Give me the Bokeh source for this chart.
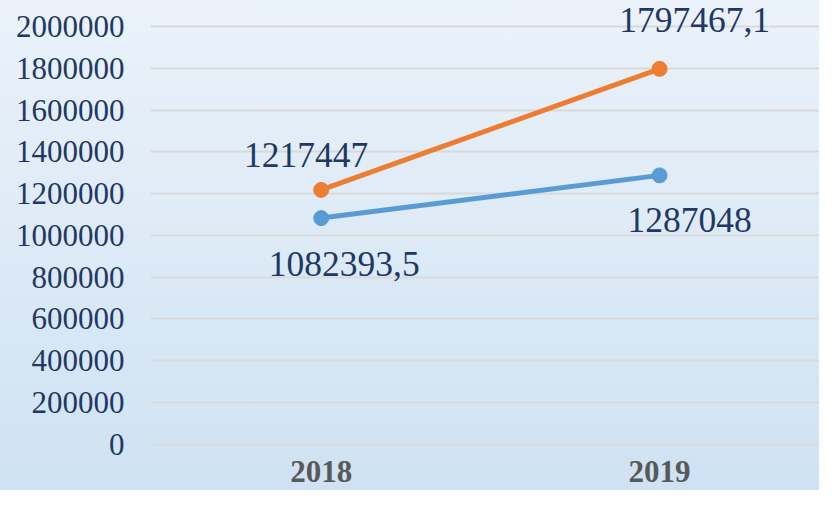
from bokeh.plotting import figure
from bokeh.models import Range1d, FixedTicker, ColumnDataSource, NumeralTickFormatter
from bokeh.core.properties import value
from bokeh.embed import file_html
from bokeh.resources import INLINE

# ---- data ----
years = [2018, 2019]
year_labels = ["2018", "2019"]
series_orange = [1217447.0, 1797467.1]
series_blue = [1082393.5, 1287048.0]
y_ticks = [0, 200000, 400000, 600000, 800000, 1000000, 1200000, 1400000,
           1600000, 1800000, 2000000]

# ---- styles / label placement (screen px) ----
orange_dx = [-15, 35]
orange_dy = [-35, -49]
blue_dx = [23, 30]
blue_dy = [46, 45]

NAVY = "#1F3864"
FONT = "Liberation Serif"


def fmt(v):
    if float(v).is_integer():
        return str(int(v))
    return f"{v:.1f}".replace(".", ",")


W, H = 819, 490
frame_left = 150
px_per_unit = 417.4 / 2000000
zero_px = 443.5
top_px = 26.1
y_start = -(H - zero_px) / px_per_unit
y_end = 2000000 + top_px / px_per_unit

px_per_year = 338.4
x_start = years[0] - (320.7 - frame_left) / px_per_year
x_end = years[1] + (W - 659.1) / px_per_year

p = figure(width=W, height=H, output_backend="svg", toolbar_location=None,
           x_range=Range1d(x_start, x_end), y_range=Range1d(y_start, y_end),
           min_border_left=frame_left, min_border_right=0,
           min_border_top=0, min_border_bottom=0)

p.styles = {"background": "linear-gradient(to bottom, #EBF2FA 0%, #CFE2F3 100%)"}
p.background_fill_color = None
p.border_fill_color = None
p.outline_line_color = None

p.xaxis.visible = False
p.xgrid.visible = False

yax = p.yaxis[0]
yax.ticker = FixedTicker(ticks=y_ticks)
yax.formatter = NumeralTickFormatter(format="0")
yax.axis_line_color = None
yax.major_tick_line_color = None
yax.minor_tick_line_color = None
yax.major_tick_out = 0
yax.major_tick_in = 0
yax.major_label_standoff = 26
yax.major_label_text_font = FONT
yax.major_label_text_font_size = "31px"
yax.major_label_text_color = NAVY

p.ygrid.ticker = FixedTicker(ticks=y_ticks)
p.ygrid.grid_line_color = "#D9D9D9"
p.ygrid.grid_line_width = 2

# lines
p.line(years, series_orange, line_color="#ED7D31", line_width=5)
p.scatter(years, series_orange, size=15, fill_color="#ED7D31", line_color="#ED7D31")
p.line(years, series_blue, line_color="#5B9BD5", line_width=5)
p.scatter(years, series_blue, size=15, fill_color="#5B9BD5", line_color="#5B9BD5")

# data labels
src_o = ColumnDataSource(dict(x=years, y=series_orange,
                              t=[fmt(v) for v in series_orange],
                              dx=orange_dx, dy=orange_dy))
src_b = ColumnDataSource(dict(x=years, y=series_blue,
                              t=[fmt(v) for v in series_blue],
                              dx=blue_dx, dy=blue_dy))
for src in (src_o, src_b):
    p.text(x="x", y="y", text="t", x_offset="dx", y_offset="dy", source=src,
           text_font=value(FONT), text_font_size="35.5px", text_color=NAVY,
           text_align="center", text_baseline="alphabetic")

# category labels (drawn at y=0, below the zero gridline)
src_x = ColumnDataSource(dict(x=years, y=[0] * len(years), t=year_labels))
p.text(x="x", y="y", text="t", source=src_x, y_offset=27,
       text_font=value(FONT), text_font_size="31px", text_font_style="bold",
       text_color="#595959", text_align="center", text_baseline="alphabetic")

open("out.html", "w").write(file_html(p, INLINE))
